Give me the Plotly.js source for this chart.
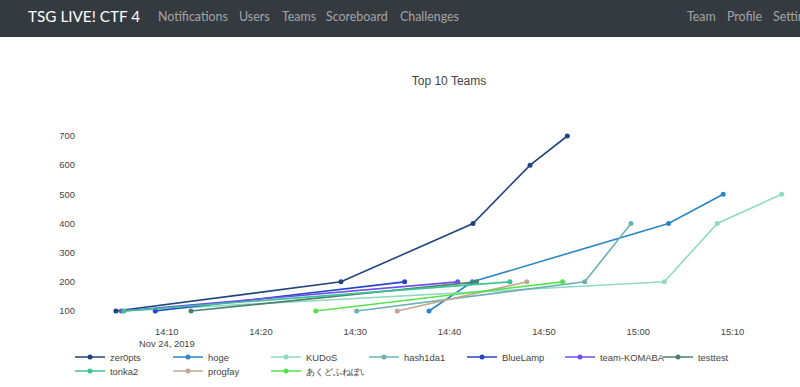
<!DOCTYPE html>
<html>
<head>
<meta charset="utf-8">
<script src="https://cdn.plot.ly/plotly-3.0.1.min.js"></script>
<style>
html, body { margin:0; padding:0; width:800px; height:387px; overflow:hidden; background:#fff; }
#nav { position:absolute; left:0; top:0; width:800px; height:37px; background:#343a40; font-family:Lato, "Liberation Sans", sans-serif; white-space:nowrap; overflow:hidden; }
#nav span { position:absolute; top:0; line-height:33px; font-size:12.4px; color:rgba(255,255,255,0.55); }
#nav span.brand { font-size:15.3px; color:#fff; }
#chart { position:absolute; left:0; top:37px; width:800px; height:350px; }
</style>
</head>
<body>
<div id="nav">
  <span class="brand" style="left:28px">TSG LIVE! CTF 4</span>
  <span style="left:158px">Notifications</span>
  <span style="left:239px">Users</span>
  <span style="left:282px">Teams</span>
  <span style="left:326px">Scoreboard</span>
  <span style="left:400px">Challenges</span>
  <span style="left:687px">Team</span>
  <span style="left:727px">Profile</span>
  <span style="left:773px">Settings</span>
</div>
<div id="chart"></div>
<script>
// Team names in legend order
const teams = ["zer0pts", "hoge", "KUDoS", "hash1da1", "BlueLamp", "team-KOMABA", "testtest", "tonka2", "progfay", "あくどふねぽい"];
const teamColors = ["#1f457c", "#2a86c6", "#8fdbbf", "#6bb0b3", "#2446c6", "#6e4ff0", "#4f806e", "#3fc196", "#c4a696", "#58e04b"];

// Solve times and cumulative scores per team
const zer0ptsTimes = ["2019-11-24 14:04:37", "2019-11-24 14:28:29", "2019-11-24 14:42:29", "2019-11-24 14:48:32", "2019-11-24 14:52:29"];
const zer0ptsScores = [100, 200, 400, 600, 700];
const hogeTimes = ["2019-11-24 14:37:49", "2019-11-24 14:42:25", "2019-11-24 15:03:13", "2019-11-24 15:09:01"];
const hogeScores = [100, 200, 400, 500];
const kudosTimes = ["2019-11-24 14:05:22", "2019-11-24 15:02:46", "2019-11-24 15:08:23", "2019-11-24 15:15:13"];
const kudosScores = [100, 200, 400, 500];
const hash1da1Times = ["2019-11-24 14:30:09", "2019-11-24 14:54:20", "2019-11-24 14:59:14"];
const hash1da1Scores = [100, 200, 400];
const blueLampTimes = ["2019-11-24 14:08:47", "2019-11-24 14:35:14"];
const blueLampScores = [100, 200];
const komabaTimes = ["2019-11-24 14:05:11", "2019-11-24 14:40:52"];
const komabaScores = [100, 200];
const testtestTimes = ["2019-11-24 14:12:35", "2019-11-24 14:42:52"];
const testtestScores = [100, 200];
const tonka2Times = ["2019-11-24 14:05:28", "2019-11-24 14:46:24"];
const tonka2Scores = [100, 200];
const progfayTimes = ["2019-11-24 14:34:27", "2019-11-24 14:48:11"];
const progfayScores = [100, 200];
const akudoTimes = ["2019-11-24 14:25:48", "2019-11-24 14:51:59"];
const akudoScores = [100, 200];

// X tick positions and labels
const xTickVals = ["2019-11-24 14:10", "2019-11-24 14:20", "2019-11-24 14:30", "2019-11-24 14:40", "2019-11-24 14:50", "2019-11-24 15:00", "2019-11-24 15:10"];
const xTickText = ["14:10", "14:20", "14:30", "14:40", "14:50", "15:00", "15:10"];
const dateLabel = "Nov 24, 2019";
const dateLabelAt = "2019-11-24 14:10";
const yTickVals = [100, 200, 300, 400, 500, 600, 700];

const allTimes = [zer0ptsTimes, hogeTimes, kudosTimes, hash1da1Times, blueLampTimes, komabaTimes, testtestTimes, tonka2Times, progfayTimes, akudoTimes];
const allScores = [zer0ptsScores, hogeScores, kudosScores, hash1da1Scores, blueLampScores, komabaScores, testtestScores, tonka2Scores, progfayScores, akudoScores];

const FONT = "Liberation Sans, Arial, sans-serif";

const traces = teams.map((name, i) => ({
  type: "scatter",
  mode: "lines+markers",
  name: name,
  x: allTimes[i],
  y: allScores[i],
  line: { color: teamColors[i], width: 1.6 },
  marker: { color: teamColors[i], size: 5 },
  legend: i < 7 ? "legend" : "legend2"
}));

const legendCommon = {
  orientation: "h",
  xref: "container", yref: "container",
  x: 70 / 800, xanchor: "left", yanchor: "top",
  font: { family: FONT, size: 9.4, color: "#444" },
  entrywidth: 53,
  bgcolor: "rgba(0,0,0,0)"
};

const layout = {
  width: 800, height: 350,
  margin: { l: 78, r: 0, t: 88, b: 65, autoexpand: false },
  paper_bgcolor: "rgba(0,0,0,0)",
  plot_bgcolor: "rgba(0,0,0,0)",
  font: { family: FONT, size: 9.4, color: "#444" },
  title: { text: "Top 10 Teams", font: { family: FONT, size: 12, color: "#444" },
           xref: "container", x: 449 / 800, xanchor: "center",
           yref: "container", y: 1 - 44 / 350, yanchor: "middle" },
  xaxis: { type: "date", showgrid: false, zeroline: false,
           range: ["2019-11-24 14:00:35.6", "2019-11-24 15:17:09.6"],
           tickmode: "array", tickvals: xTickVals, ticktext: xTickText,
           ticklabelstandoff: 3,
           tickfont: { family: FONT, size: 9.4, color: "#444" } },
  yaxis: { showgrid: false, zeroline: false, range: [62.3, 737.7],
           tickmode: "array", tickvals: yTickVals,
           ticklabelstandoff: 2,
           tickfont: { family: FONT, size: 9.4, color: "#444" } },
  annotations: [{
    text: dateLabel, x: dateLabelAt, xref: "x", xanchor: "center",
    yref: "paper", y: -(306 - 285) / 197, yanchor: "middle",
    showarrow: false, font: { family: FONT, size: 9.4, color: "#444" }
  }],
  showlegend: true,
  legend: Object.assign({}, legendCommon, { y: 1 - 305.5 / 350 }),
  legend2: Object.assign({}, legendCommon, { y: 1 - 319.5 / 350 })
};

Plotly.newPlot("chart", traces, layout, { displayModeBar: false, staticPlot: true });
</script>
</body>
</html>
